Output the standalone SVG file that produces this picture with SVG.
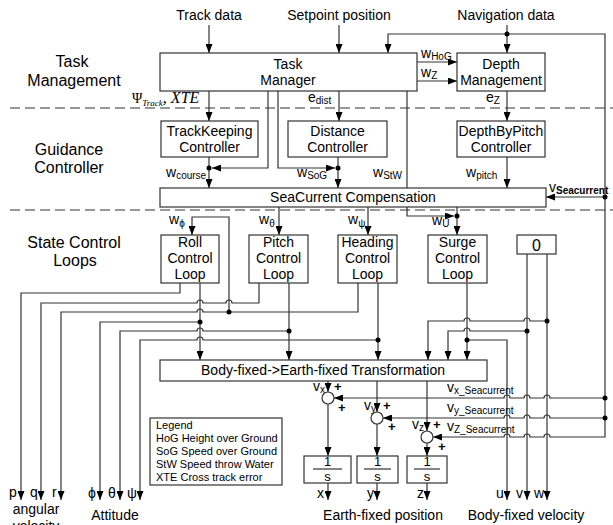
<svg xmlns="http://www.w3.org/2000/svg" width="613" height="525" viewBox="0 0 613 525">
<defs>
<marker id="a" viewBox="0 0 9 7" refX="9" refY="3.5" markerWidth="9" markerHeight="7" markerUnits="userSpaceOnUse" orient="auto"><path d="M0,0 L9,3.5 L0,7 z" fill="#000"/></marker>
<style>
.ln{fill:none;stroke:#333;stroke-width:1.2}
.ar{fill:none;stroke:#333;stroke-width:1.2;marker-end:url(#a)}
.bx{fill:#fff;stroke:#333;stroke-width:1.2}
.ds{fill:none;stroke:#333;stroke-width:1.2;stroke-dasharray:10,5}
.dot{fill:#000}
text{font-family:"Liberation Sans",Arial,sans-serif;font-size:14px;fill:#000}
.c{text-anchor:middle}
.sec{font-size:16px}
.sub{font-size:10px}
.lg{font-size:11px}
.fr{font-size:13px}
.pl{font-size:13px;font-weight:bold}
.gr{font-family:"Liberation Serif","Times New Roman",serif}
</style>
</defs>
<rect width="613" height="525" fill="#fff"/>

<g id="labels">
<text class="c" x="209" y="20">Track data</text>
<text class="c" x="339" y="20">Setpoint position</text>
<text class="c" x="506" y="20">Navigation data</text>
<text class="sec c" x="72" y="67">Task</text>
<text class="sec c" x="74" y="86">Management</text>
<text class="sec c" x="69" y="155">Guidance</text>
<text class="sec c" x="69" y="173">Controller</text>
<text class="sec c" x="74" y="248">State Control</text>
<text class="sec c" x="75" y="266">Loops</text>
</g>

<g id="connectors">
<path class="ar" d="M209,25 V53"/>
<path class="ar" d="M339,25 V53"/>
<path class="ar" d="M507,25 V53"/>
<path class="ar" d="M507,34 H388 V53"/>
<path class="ar" d="M507,34 H605 V437 H550 a3,3 0 0 0 -6,0 H530 a3,3 0 0 0 -6,0 H510 a3,3 0 0 0 -6,0 H433"/>
<path class="ar" d="M417,62 H457"/>
<path class="ar" d="M417,81 H457"/>
<path class="ar" d="M209,91 V121"/>
<path class="ar" d="M339,91 V121"/>
<path class="ar" d="M507,91 V121"/>
<path class="ar" d="M268,91 V168 H212"/>
<path class="ar" d="M278,91 V168 H335"/>
<path class="ar" d="M209,157 V188"/>
<path class="ar" d="M338,157 V188"/>
<path class="ar" d="M507,157 V188"/>
<path class="ar" d="M407,91 V216 H454"/>
<path class="ar" d="M457,207 V235"/>
<path class="ar" d="M605,197 H546"/>
<path class="ar" d="M229,312 V217 H192 V235"/>
<path class="ar" d="M279,207 V235"/>
<path class="ar" d="M368,207 V235"/>
<path class="ar" d="M180,283 V293 H21 V500"/>
<path class="ar" d="M259,283 V303 H232 a3,3 0 0 0 -6,0 H203 a3,3 0 0 0 -6,0 H41 V500"/>
<path class="ar" d="M358,283 V312 H203 a3,3 0 0 0 -6,0 H61 V500"/>
<path class="ar" d="M200,322 H100 V500"/>
<path class="ar" d="M289,331 H203 a3,3 0 0 0 -6,0 H120 V500"/>
<path class="ar" d="M378,340 H203 a3,3 0 0 0 -6,0 H140 V500"/>
<path class="ar" d="M200,283 V360"/>
<path class="ar" d="M289,283 V360"/>
<path class="ar" d="M378,283 V360"/>
<path class="ar" d="M467,283 V360"/>
<path class="ar" d="M467,340 H507 V500"/>
<path class="ar" d="M527,254 V500"/>
<path class="ar" d="M547,254 V500"/>
<path class="ar" d="M547,321 H530 a3,3 0 0 0 -6,0 H470 a3,3 0 0 0 -6,0 H428 V360"/>
<path class="ar" d="M527,331 H470 a3,3 0 0 0 -6,0 H448 V360"/>
<path class="ar" d="M605,398 H550 a3,3 0 0 0 -6,0 H530 a3,3 0 0 0 -6,0 H510 a3,3 0 0 0 -6,0 H334"/>
<path class="ar" d="M605,418 H550 a3,3 0 0 0 -6,0 H530 a3,3 0 0 0 -6,0 H510 a3,3 0 0 0 -6,0 H383"/>
<path class="ar" d="M328,381 V392"/>
<path class="ar" d="M377,381 V412"/>
<path class="ar" d="M427,381 V431"/>
<path class="ar" d="M328,404 V456"/>
<path class="ar" d="M377,424 V456"/>
<path class="ar" d="M427,443 V456"/>
<path class="ar" d="M328,483 V500"/>
<path class="ar" d="M377,483 V500"/>
<path class="ar" d="M427,483 V500"/>
<circle class="dot" cx="507" cy="34" r="2.5"/>
<circle class="dot" cx="209" cy="168" r="2.5"/>
<circle class="dot" cx="338" cy="168" r="2.5"/>
<circle class="dot" cx="457" cy="216" r="2.5"/>
<circle class="dot" cx="605" cy="197" r="2.5"/>
<circle class="dot" cx="229" cy="312" r="2.5"/>
<circle class="dot" cx="200" cy="322" r="2.5"/>
<circle class="dot" cx="289" cy="331" r="2.5"/>
<circle class="dot" cx="378" cy="340" r="2.5"/>
<circle class="dot" cx="467" cy="340" r="2.5"/>
<circle class="dot" cx="527" cy="331" r="2.5"/>
<circle class="dot" cx="547" cy="321" r="2.5"/>
<circle class="dot" cx="605" cy="398" r="2.5"/>
<circle class="dot" cx="605" cy="418" r="2.5"/>
<path class="ds" d="M10,108 H613"/>
<path class="ds" d="M10,210 H613"/>
<text class="gr" x="132" y="103" font-size="16">Ψ<tspan font-size="9" font-style="italic" dy="3">Track</tspan><tspan font-style="italic" dy="-3" font-size="16">, XTE</tspan></text>
<text x="421" y="58">w<tspan class="sub" dy="2">HoG</tspan></text>
<text x="421" y="77">w<tspan class="sub" dy="2">Z</tspan></text>
<text x="308" y="102">e<tspan class="sub" dy="2">dist</tspan></text>
<text x="486" y="102">e<tspan class="sub" dy="2">Z</tspan></text>
<text x="166" y="177">w<tspan class="sub" dy="2">course</tspan></text>
<text x="297" y="177">w<tspan class="sub" dy="2">SoG</tspan></text>
<text x="373" y="177">w<tspan class="sub" dy="2">StW</tspan></text>
<text x="466" y="177">w<tspan class="sub" dy="2">pitch</tspan></text>
<text x="549" y="192">v<tspan class="sub" font-weight="bold" dy="2">Seacurrent</tspan></text>
<text x="169" y="224">w<tspan class="sub" dy="3">ϕ</tspan></text>
<text x="259" y="224">w<tspan class="sub" dy="3">θ</tspan></text>
<text x="348" y="224">w<tspan class="sub" dy="3">ψ</tspan></text>
<text x="432" y="225">w<tspan class="sub" dy="2">U</tspan></text>
<text x="313" y="391">v<tspan class="sub" dy="2">x</tspan></text>
<text x="364" y="410">v<tspan class="sub" dy="2">y</tspan></text>
<text x="412" y="429">v<tspan class="sub" dy="2">z</tspan></text>
<text x="447" y="392">v<tspan class="sub" dy="2">x_Seacurrent</tspan></text>
<text x="447" y="412">v<tspan class="sub" dy="2">y_Seacurrent</tspan></text>
<text x="447" y="431">v<tspan class="sub" dy="2">Z_Seacurrent</tspan></text>
<text class="pl" x="334" y="391">+</text>
<text class="pl" x="338" y="412">+</text>
<text class="pl" x="383" y="410">+</text>
<text class="pl" x="388" y="431">+</text>
<text class="pl" x="433" y="429">+</text>
<text class="pl" x="438" y="451">+</text>
</g>

<g id="task-manager"><rect class="bx" x="160" y="53" width="257" height="38"/><text class="c" x="288" y="69">Task</text><text class="c" x="288" y="85">Manager</text></g>
<g id="depth-management"><rect class="bx" x="457" y="53" width="88" height="38"/><text class="c" x="501" y="69">Depth</text><text class="c" x="501" y="85">Management</text></g>
<g id="trackkeeping"><rect class="bx" x="161" y="121" width="97" height="36"/><text class="c" x="209.5" y="136">TrackKeeping</text><text class="c" x="209.5" y="152">Controller</text></g>
<g id="distance"><rect class="bx" x="288" y="121" width="99" height="36"/><text class="c" x="337.5" y="136">Distance</text><text class="c" x="337.5" y="152">Controller</text></g>
<g id="depthbypitch"><rect class="bx" x="457" y="121" width="88" height="36"/><text class="c" x="501" y="136">DepthByPitch</text><text class="c" x="501" y="152">Controller</text></g>
<g id="seacurrent"><rect class="bx" x="160" y="188" width="386" height="19"/><text class="c" x="353" y="202">SeaCurrent Compensation</text></g>
<g id="roll"><rect class="bx" x="161" y="235" width="58" height="48"/><text class="c" x="190" y="247">Roll</text><text class="c" x="190" y="263">Control</text><text class="c" x="190" y="279">Loop</text></g>
<g id="pitch"><rect class="bx" x="249" y="235" width="59" height="48"/><text class="c" x="278.5" y="247">Pitch</text><text class="c" x="278.5" y="263">Control</text><text class="c" x="278.5" y="279">Loop</text></g>
<g id="heading"><rect class="bx" x="338" y="235" width="59" height="48"/><text class="c" x="367.5" y="247">Heading</text><text class="c" x="367.5" y="263">Control</text><text class="c" x="367.5" y="279">Loop</text></g>
<g id="surge"><rect class="bx" x="428" y="235" width="59" height="48"/><text class="c" x="457.5" y="247">Surge</text><text class="c" x="457.5" y="263">Control</text><text class="c" x="457.5" y="279">Loop</text></g>
<g id="zero"><rect class="bx" x="517" y="235" width="39" height="19"/><text class="c sec" x="536.5" y="251">0</text></g>
<g id="transformation"><rect class="bx" x="160" y="360" width="327" height="21"/><text class="c" x="323" y="375">Body-fixed-&gt;Earth-fixed  Transformation</text></g>
<g id="sum-x"><circle class="bx" cx="328" cy="398" r="6"/></g>
<g id="sum-y"><circle class="bx" cx="377" cy="418" r="6"/></g>
<g id="sum-z"><circle class="bx" cx="427" cy="437" r="6"/></g>
<g id="int-x"><rect class="bx" x="304" y="456" width="47" height="27"/><text class="c fr" x="327.5" y="466">1</text><path class="ln" d="M313,469 H342"/><text class="c fr" x="327.5" y="481">s</text></g>
<g id="int-y"><rect class="bx" x="357" y="456" width="41" height="27"/><text class="c fr" x="377.5" y="466">1</text><path class="ln" d="M364,469 H391"/><text class="c fr" x="377.5" y="481">s</text></g>
<g id="int-z"><rect class="bx" x="407" y="456" width="40" height="27"/><text class="c fr" x="427" y="466">1</text><path class="ln" d="M414,469 H440"/><text class="c fr" x="427" y="481">s</text></g>
<g id="legend"><rect class="bx" x="150" y="418" width="132" height="67"/>
<text class="lg" x="156" y="429">Legend</text>
<text class="lg" x="156" y="442">HoG Height over Ground</text>
<text class="lg" x="156" y="455">SoG Speed over Ground</text>
<text class="lg" x="156" y="468">StW Speed throw Water</text>
<text class="lg" x="156" y="481">XTE Cross track error</text></g>

<g id="outputs">
<text x="9" y="497">p</text><text x="30" y="497">q</text><text x="52" y="497">r</text>
<text x="88" y="498" font-size="12">ϕ</text><text x="108" y="498" font-size="12">θ</text><text x="127" y="498" font-size="12">ψ</text>
<text class="c" x="36" y="514">angular</text>
<text class="c" x="36" y="531">velocity</text>
<text class="c" x="115" y="520">Attitude</text>
<text x="317" y="498">x</text><text x="367" y="498">y</text><text x="417" y="498">z</text>
<text x="496" y="498">u</text><text x="516" y="498">v</text><text x="534" y="498">w</text>
<text class="c" x="383" y="520">Earth-fixed position</text>
<text class="c" x="526" y="520">Body-fixed velocity</text>
</g>
</svg>
